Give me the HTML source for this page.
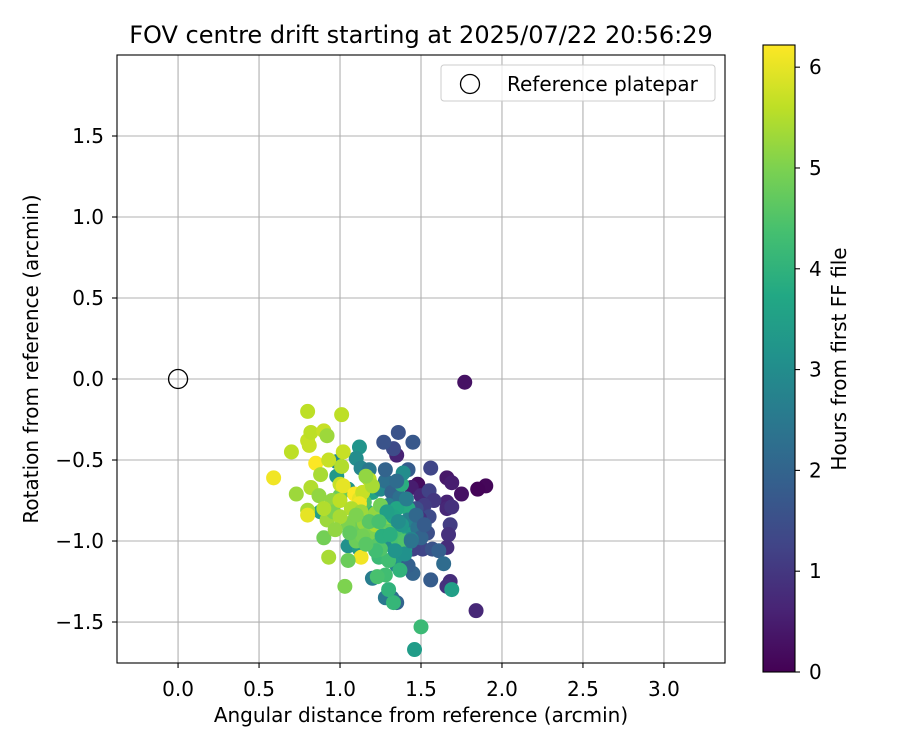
<!DOCTYPE html>
<html><head><meta charset="utf-8"><style>
body{margin:0;background:#fff}
svg{display:block;font-family:"DejaVu Sans","Liberation Sans",sans-serif}
</style></head><body>
<svg id="chart" width="900" height="750" viewBox="0 0 900 750">
<defs>
<linearGradient id="vir" x1="0" y1="1" x2="0" y2="0">
<stop offset="0" stop-color="#440154"/><stop offset="0.1" stop-color="#482475"/><stop offset="0.2" stop-color="#414487"/><stop offset="0.3" stop-color="#355f8d"/><stop offset="0.4" stop-color="#2a788e"/><stop offset="0.5" stop-color="#21918c"/><stop offset="0.6" stop-color="#22a884"/><stop offset="0.7" stop-color="#44bf70"/><stop offset="0.8" stop-color="#7ad151"/><stop offset="0.9" stop-color="#bddf26"/><stop offset="1" stop-color="#fde725"/>
</linearGradient>
</defs>
<text x="421" y="43" text-anchor="middle" font-size="24">FOV centre drift starting at 2025/07/22 20:56:29</text>
<g id="grid"></g>
<g id="ticks"></g>
<g id="pts"></g>
<circle id="refpt" r="9.5" fill="none" stroke="#000" stroke-width="1.3"/>
<rect x="117" y="55" width="608" height="608" fill="none" stroke="#000" stroke-width="1.1"/>
<g>
<rect x="441" y="65" width="274" height="36" rx="3" fill="#fff" fill-opacity="0.8" stroke="#ccc"/>
<circle cx="470" cy="84" r="9.5" fill="none" stroke="#000" stroke-width="1.3"/>
<text x="507" y="91" font-size="20">Reference platepar</text>
</g>
<text x="421" y="722" text-anchor="middle" font-size="20">Angular distance from reference (arcmin)</text>
<text transform="translate(38,359) rotate(-90)" text-anchor="middle" font-size="20">Rotation from reference (arcmin)</text>
<rect x="763" y="45" width="32" height="627" fill="url(#vir)" stroke="#000" stroke-width="1.1"/>
<g id="cbticks"></g>
<text transform="translate(846,359) rotate(-90)" text-anchor="middle" font-size="20">Hours from first FF file</text>
</svg>
<script>
const xTicks=[0,0.5,1,1.5,2,2.5,3];
const yTicks=[-1.5,-1,-0.5,0,0.5,1,1.5];
const cTicks=[0,1,2,3,4,5,6];
const ptX=[1.77,1.84,1.90,1.85,1.75,1.66,1.69,1.66,1.66,1.69,1.68,1.67,1.66,1.68,1.66,1.48,1.44,1.50,1.55,1.56,1.58,1.52,1.47,1.50,1.54,1.55,1.48,1.51,1.45,1.57,1.35,1.33,1.27,1.36,1.45,1.42,1.49,
1.46,1.45,1.56,1.61,1.64,1.69,1.35,1.32,1.35,1.28,1.20,1.10,1.05,1.12,1.07,1.12,1.10,1.13,1.18,0.98,0.98,1.05,1.20,1.25,1.28,1.32,1.30,1.37,1.38,1.42,1.35,1.42,1.40,1.45,1.38,1.39,1.35,1.28,1.42,1.48,1.50,1.42,1.30,1.36,1.25,1.32,
1.37,1.33,1.30,1.50,1.28,1.23,1.24,1.30,1.10,1.20,1.25,1.30,1.35,1.40,1.27,1.22,1.17,1.15,1.00,0.95,0.88,
0.59,0.70,0.73,0.80,0.80,0.81,0.82,0.80,0.80,0.85,0.82,0.88,0.90,0.92,0.93,1.01,1.02,1.01,1.00,1.02,1.09,1.12,1.14,1.12,1.18,1.20,1.16,0.93,1.13,0.92,0.95,0.96,0.90,1.03,1.05,0.87,0.90,1.00,1.07,1.08,1.10,1.13,1.15,1.05,1.18,1.22,1.25,1.27,1.30,1.22,1.00,0.97,
1.40,1.44,1.38,1.33,1.26,1.22,1.18,1.14,1.10,1.06,1.34,1.29,1.41,1.36,1.47,1.52,1.44,1.31,1.24,1.16];
const ptY=[-0.02,-1.43,-0.66,-0.68,-0.71,-0.61,-0.64,-0.76,-0.80,-0.79,-0.90,-0.96,-1.04,-1.25,-1.28,-0.65,-0.67,-0.72,-0.69,-0.55,-0.75,-0.78,-0.80,-0.90,-0.95,-0.85,-0.98,-1.05,-1.05,-1.05,-0.47,-0.43,-0.39,-0.33,-0.39,-0.56,-0.86,
-1.67,-1.20,-1.24,-1.06,-1.14,-1.30,-1.38,-1.35,-1.15,-1.35,-1.23,-1.00,-1.03,-1.05,-0.92,-0.42,-0.49,-0.55,-0.56,-0.51,-0.60,-0.68,-0.70,-0.68,-0.63,-0.70,-0.78,-0.73,-0.65,-0.80,-0.80,-0.95,-1.05,-0.93,-1.10,-0.58,-0.63,-0.56,-0.87,-0.92,-0.98,-1.15,-1.02,-1.02,-0.95,-0.92,
-1.18,-1.38,-1.30,-1.53,-1.21,-1.22,-1.10,-1.12,-1.00,-1.00,-1.05,-0.95,-0.98,-1.00,-0.87,-0.90,-0.82,-0.76,-0.72,-0.80,-0.82,
-0.61,-0.45,-0.71,-0.20,-0.38,-0.41,-0.33,-0.81,-0.84,-0.52,-0.67,-0.59,-0.32,-0.35,-0.50,-0.22,-0.45,-0.54,-0.65,-0.66,-0.71,-0.74,-0.70,-0.77,-0.62,-0.66,-0.60,-1.10,-1.10,-0.87,-0.75,-0.82,-0.98,-1.28,-1.12,-0.72,-0.80,-0.75,-0.80,-0.88,-0.92,-0.82,-0.89,-0.90,-0.95,-0.83,-0.78,-0.90,-0.85,-0.90,-0.85,-0.93,
-1.08,-0.99,-0.90,-0.85,-0.97,-1.06,-0.88,-0.97,-0.84,-0.95,-1.06,-0.82,-0.74,-0.88,-0.84,-0.90,-1.00,-0.96,-0.88,-1.02];
const ptH=[0.3,0.7,0.1,0.05,0.3,0.4,0.5,0.6,0.7,0.9,1.1,0.9,0.8,0.8,0.9,0.2,0.5,0.7,1.2,1.3,1.0,1.1,1.5,1.6,1.5,1.4,1.7,1.3,1.2,1.6,0.6,1.4,1.6,1.6,1.7,1.8,0.9,
3.4,2.0,1.8,1.9,2.2,3.5,2.0,2.3,2.6,2.5,2.6,3.0,3.1,3.4,3.5,3.2,3.0,2.8,2.5,2.9,3.3,3.2,3.6,2.9,2.3,2.0,2.6,2.3,3.9,3.8,3.7,3.6,3.5,3.4,3.2,3.0,2.2,2.0,2.7,2.4,2.0,1.9,3.0,3.6,3.3,3.8,
4.0,4.1,4.0,4.2,4.3,4.4,4.2,4.3,4.8,4.6,4.5,4.7,4.4,4.5,4.2,5.2,4.0,4.5,4.8,4.5,3.5,
6.1,5.6,5.3,5.6,5.7,5.7,5.6,5.4,6.0,6.2,5.5,5.4,5.7,5.3,5.7,5.6,5.7,5.5,5.7,6.0,6.2,6.0,5.7,6.1,5.6,5.4,5.2,5.4,6.1,5.3,5.2,5.0,4.9,5.0,4.8,5.2,5.5,5.6,5.5,5.1,4.8,5.3,5.2,5.0,5.0,5.2,4.9,4.7,5.0,5.4,5.4,5.2,
3.1,2.8,3.3,3.6,3.9,4.3,4.6,4.9,5.0,4.7,3.2,3.5,2.6,3.0,2.1,1.8,2.4,3.9,4.4,4.6];
const NS='http://www.w3.org/2000/svg';
const xMin=-0.377,xMax=3.377,yMin=-1.753,yMax=2.0,L=117,R=725,T=55,B=663;
const sx=v=>L+(v-xMin)/(xMax-xMin)*(R-L);
const sy=v=>B-(v-yMin)/(yMax-yMin)*(B-T);
const cMax=6.22,cy=v=>672-v/cMax*627;
const vir=[[68,1,84],[72,36,117],[65,68,135],[53,95,141],[42,120,142],[33,145,140],[34,168,132],[68,191,112],[122,209,81],[189,223,38],[253,231,37]];
function col(h){let t=Math.max(0,Math.min(1,h/cMax))*10;let i=Math.min(9,Math.floor(t)),f=t-i;const a=vir[i],b=vir[i+1];return 'rgb('+a.map((c,k)=>Math.round(c+(b[k]-c)*f)).join(',')+')';}
function mk(tag,at,parent){const e=document.createElementNS(NS,tag);for(const k in at)e.setAttribute(k,at[k]);parent.appendChild(e);return e;}
const g=document.getElementById('grid'),tk=document.getElementById('ticks'),pg=document.getElementById('pts'),cb=document.getElementById('cbticks');
xTicks.forEach(v=>{const x=sx(v);
const l=mk('line',{x1:x,x2:x,y1:T,y2:B,stroke:'#b0b0b0','stroke-width':1.1},g);


mk('line',{x1:x,x2:x,y1:B,y2:B+5,stroke:'#000','stroke-width':1.1},tk);
const t=mk('text',{x:x,y:B+33,'text-anchor':'middle','font-size':20},tk);t.textContent=v.toFixed(1);

});
yTicks.forEach(v=>{const y=sy(v);
const l=mk('line',{x1:L,x2:R,y1:y,y2:y,stroke:'#b0b0b0','stroke-width':1.1},g);


mk('line',{x1:L-5,x2:L,y1:y,y2:y,stroke:'#000','stroke-width':1.1},tk);
const t=mk('text',{x:L-13,y:y+7,'text-anchor':'end','font-size':20},tk);t.textContent=(v<0?'\u2212':'')+Math.abs(v).toFixed(1);

});
ptX.forEach((x,i)=>{const c=mk('circle',{cx:sx(x),cy:sy(ptY[i]),r:7.5,fill:col(ptH[i])},pg);

});
const rp=document.getElementById('refpt');rp.setAttribute('cx',sx(0));rp.setAttribute('cy',sy(0));
cTicks.forEach(v=>{const y=cy(v);
mk('line',{x1:795,x2:800,y1:y,y2:y,stroke:'#000','stroke-width':1.1},cb);
const t=mk('text',{x:809,y:y+7,'font-size':20},cb);t.textContent=v;

});
</script>
</body></html>
